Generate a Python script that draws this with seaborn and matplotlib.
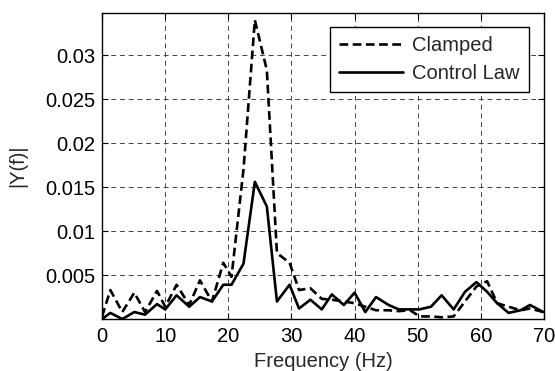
import numpy as np
import pandas as pd
import matplotlib
matplotlib.use("Agg")
import matplotlib.pyplot as plt
import seaborn as sns

freq = [0, 1.3, 3.2, 5.1, 6.8, 8.7, 10.0, 11.8, 13.8, 15.5, 17.4, 19.2, 20.5,
        22.4, 24.2, 26.1, 27.7, 29.7, 31.2, 33.0, 34.8, 36.4, 38.3, 40.0, 41.7,
        43.4, 45.4, 47.0, 48.8, 50.3, 52.1, 53.8, 55.7, 57.5, 59.3, 61.0, 62.6,
        64.4, 66.3, 67.8, 69.9]
clamped = [0.0003, 0.0033, 0.0008, 0.0030, 0.0008, 0.0032, 0.0014, 0.0039, 0.0016,
           0.0044, 0.0020, 0.0064, 0.0048, 0.0170, 0.0340, 0.0283, 0.0075, 0.0064,
           0.0033, 0.0035, 0.0023, 0.0022, 0.0020, 0.0018, 0.0014, 0.0010, 0.0010,
           0.0009, 0.0010, 0.0003, 0.0003, 0.0002, 0.0003, 0.0020, 0.0037, 0.0043,
           0.0018, 0.0014, 0.0010, 0.0012, 0.0008]
control = [0.0000, 0.0007, 0.0000, 0.0008, 0.0005, 0.0017, 0.0011, 0.0027, 0.0014,
           0.0025, 0.0020, 0.0039, 0.0039, 0.0063, 0.0156, 0.0128, 0.0020, 0.0039,
           0.0012, 0.0022, 0.0011, 0.0028, 0.0016, 0.0030, 0.0008, 0.0025, 0.0016,
           0.0011, 0.0011, 0.0011, 0.0014, 0.0027, 0.0011, 0.0031, 0.0042, 0.0031,
           0.0018, 0.0007, 0.0010, 0.0016, 0.0008]
series_names = ["Clamped", "Control Law"]
yticks = [0.005, 0.01, 0.015, 0.02, 0.025, 0.03]
xticks = [0, 10, 20, 30, 40, 50, 60, 70]

df = pd.DataFrame({
    "Frequency (Hz)": freq * 2,
    "|Y(f)|": clamped + control,
    "Series": [series_names[0]] * len(freq) + [series_names[1]] * len(freq),
})

sns.set_style("white")
plt.rcParams["font.family"] = ["Liberation Sans", "DejaVu Sans"]
FS = 14.5

fig = plt.figure(figsize=(5.55, 3.71), dpi=100)
ax = fig.add_axes([0.184, 0.140, 0.796, 0.825])

sns.lineplot(data=df, x="Frequency (Hz)", y="|Y(f)|", hue="Series", style="Series",
             palette=["black", "black"],
             dashes={series_names[0]: (3.3, 1.7), series_names[1]: ""},
             linewidth=1.9, ax=ax, sort=False)

ax.set_xlim(0, 70)
ax.set_ylim(0, 0.0348)
ax.set_xticks(xticks)
ax.set_xticklabels([str(t) for t in xticks])
ax.set_yticks(yticks)
ax.set_yticklabels(["%g" % t for t in yticks])
ax.tick_params(axis="both", direction="in", length=4, labelsize=FS, colors="black",
               top=True, right=True, bottom=True, left=True)
ax.tick_params(axis="x", pad=6)
ax.tick_params(axis="y", pad=5)
ax.grid(True, color="#444444", linestyle=(0, (5, 4)), linewidth=0.7)
for s in ax.spines.values():
    s.set_color("black")
    s.set_linewidth(1.0)
ax.set_xlabel("Frequency (Hz)", fontsize=FS, labelpad=4)
ax.set_ylabel("|Y(f)|", fontsize=FS, labelpad=13)

handles, labels = ax.get_legend_handles_labels()
leg = ax.legend(handles, labels, loc="upper right", fontsize=FS, frameon=True,
                fancybox=False, edgecolor="black", framealpha=1,
                handlelength=3.2, handletextpad=0.45, borderpad=0.45,
                labelspacing=0.45, borderaxespad=0,
                bbox_to_anchor=(0.966, 0.955))
leg.get_frame().set_linewidth(1.0)

fig.savefig("out.png", dpi=100)
